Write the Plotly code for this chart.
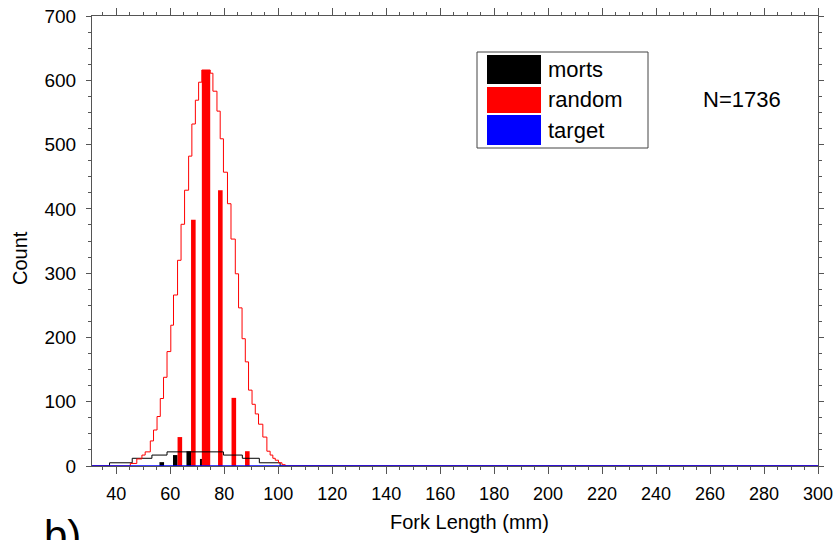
import plotly.graph_objects as go

# ---- data ----
bin_centers = [58.5, 63.5, 68.5, 73.5, 78.5, 83.5, 88.5]
morts = [6, 17, 23, 11, 0, 0, 0]
random_ = [0, 45, 383, 616, 429, 106, 23]
target = [0, 0, 0, 0, 0, 0, 0]

red_step_x = [31, 45.2, 47.6, 49.5, 50.7, 52.6, 53.8, 55.1, 56.3, 57.5, 58.8, 60.2, 61.2,
              62.7, 64.0, 65.3, 66.8, 68.0, 69.3, 70.5, 71.7, 74.8, 75.8, 77.3, 78.5, 79.7,
              81.2, 82.5, 84.1, 85.3, 86.6, 87.8, 89.0, 90.3, 91.5, 92.7, 94.3, 95.8, 97.0,
              98.0, 98.9, 100.1, 101.4, 102.6, 300]
red_step_y = [0, 4, 11, 17, 22, 39, 56, 77, 105, 138, 178, 219, 266, 320, 376, 429, 482,
              532, 569, 597, 616, 611, 583, 552, 509, 457, 408, 353, 299, 246, 198, 162,
              118, 96, 81, 65, 45, 23, 17, 12, 9, 5, 2, 0, 0]

black_step_x = [31, 37.5, 45.9, 53.2, 58.8, 79.7, 86.7, 93.0, 100.7, 300]
black_step_y = [0, 5, 12, 17, 22, 17, 12, 5, 0, 0]

blue_step_x = [31, 300]
blue_step_y = [0, 0]

x_ticks = list(range(40, 301, 20))
legend_names = ["morts", "random", "target"]
legend_colors = ["#000000", "#ff0000", "#0000ff"]
n_label = "N=1736"
x_title = "Fork Length (mm)"
y_title = "Count"
panel_label = "b)"

FONT = "Liberation Sans, Arial, sans-serif"

fig = go.Figure()

# step outlines (drawn beneath bars)
fig.add_trace(go.Scatter(x=black_step_x, y=black_step_y, mode="lines", line_shape="hv",
                         line=dict(color="#000000", width=1), showlegend=False))
fig.add_trace(go.Scatter(x=red_step_x, y=red_step_y, mode="lines", line_shape="hv",
                         line=dict(color="#ff0000", width=1), showlegend=False))
fig.add_trace(go.Scatter(x=blue_step_x, y=blue_step_y, mode="lines", line_shape="hv",
                         line=dict(color="#0000ff", width=1.5), showlegend=False))

bw = 1.7
fig.add_trace(go.Bar(x=bin_centers, y=morts, name="morts", marker_color="#000000",
                     marker_line_width=0, width=bw, offset=-2.5, showlegend=False))
fig.add_trace(go.Bar(x=bin_centers, y=random_, name="random", marker_color="#ff0000",
                     marker_line_width=0,
                     width=[bw, bw, bw, 3.1, bw, bw, bw],
                     offset=[-0.8, -0.8, -0.8, -1.8, -0.8, -0.8, -0.8], showlegend=False))
fig.add_trace(go.Bar(x=bin_centers, y=target, name="target", marker_color="#0000ff",
                     marker_line_width=0, width=bw, offset=0.9, showlegend=False))

W, H = 835, 540
L, R, T, B = 92, 17, 16, 74
pw, ph = W - L - R, H - T - B

def px2paper_x(px):
    return (px - L) / pw

def px2paper_y(py):
    return (H - B - py) / ph

shapes = []
annotations = []
# custom legend box
shapes.append(dict(type="rect", xref="paper", yref="paper",
                   x0=px2paper_x(477), x1=px2paper_x(648),
                   y0=px2paper_y(148), y1=px2paper_y(52),
                   line=dict(color="#444444", width=1), fillcolor="white", layer="above"))
sw_rows = [(55, 84), (87, 113), (115, 145)]
for name, col, (ya, yb) in zip(legend_names, legend_colors, sw_rows):
    shapes.append(dict(type="rect", xref="paper", yref="paper",
                       x0=px2paper_x(487), x1=px2paper_x(541),
                       y0=px2paper_y(yb), y1=px2paper_y(ya),
                       line=dict(width=0), fillcolor=col, layer="above"))
    annotations.append(dict(xref="paper", yref="paper", x=px2paper_x(546),
                            y=px2paper_y((ya + yb) / 2), text=name, showarrow=False,
                            xanchor="left", yanchor="middle",
                            font=dict(family=FONT, size=22, color="black")))

annotations.append(dict(xref="paper", yref="paper", x=px2paper_x(742), y=px2paper_y(100),
                        text=n_label, showarrow=False, xanchor="center", yanchor="middle",
                        font=dict(family=FONT, size=22, color="black")))
annotations.append(dict(xref="paper", yref="paper", x=px2paper_x(42), y=px2paper_y(510),
                        text=panel_label, showarrow=False, xanchor="left", yanchor="top",
                        font=dict(family=FONT, size=42, color="black")))
annotations.append(dict(xref="paper", yref="paper", x=px2paper_x(469), y=px2paper_y(522),
                        text=x_title, showarrow=False, xanchor="center", yanchor="middle",
                        font=dict(family=FONT, size=20, color="black")))
annotations.append(dict(xref="paper", yref="paper", x=px2paper_x(20), y=px2paper_y(258),
                        text=y_title, showarrow=False, xanchor="center", yanchor="middle",
                        textangle=-90,
                        font=dict(family=FONT, size=20, color="black")))

axis_common = dict(showline=True, linecolor="#555555", linewidth=1, mirror="ticks",
                   showgrid=False, zeroline=False, ticks="outside", tickcolor="#555555",
                   layer="below traces")

fig.update_layout(
    width=W, height=H,
    margin=dict(l=L, r=R, t=T, b=B, autoexpand=False),
    paper_bgcolor="white", plot_bgcolor="white",
    barmode="overlay",
    showlegend=False,
    font=dict(family=FONT, color="black"),
    shapes=shapes, annotations=annotations,
    xaxis=dict(range=[31, 300], tickvals=x_ticks, ticklen=7, tickwidth=1,
               minor=dict(dtick=5, tick0=0, ticklen=3, ticks="outside", tickcolor="#555555"),
               tickfont=dict(family=FONT, size=18), ticklabelstandoff=4,
               automargin=False, **axis_common),
    yaxis=dict(range=[0, 700], dtick=100, ticklen=5, tickwidth=1,
               minor=dict(dtick=25, tick0=0, ticklen=3, ticks="outside", tickcolor="#555555"),
               tickfont=dict(family=FONT, size=19), ticklabelstandoff=6,
               automargin=False, **axis_common),
)

fig.write_html("out.html")
